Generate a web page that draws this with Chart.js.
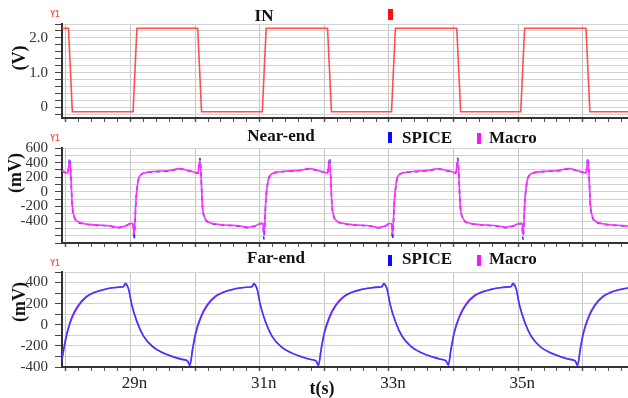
<!DOCTYPE html>
<html>
<head>
<meta charset="utf-8">
<script src="https://cdn.jsdelivr.net/npm/chart.js@4.4.1/dist/chart.umd.min.js"></script>
<style>
  body { margin: 0; background: #fff; }
  #wrap { position: relative; width: 628px; height: 398px; overflow: hidden; font-family: "Liberation Serif", "DejaVu Serif", serif; }
  .panel { position: absolute; left: 0; width: 628px; }
  .t { position: absolute; white-space: nowrap; line-height: 1; transform: translate(-50%, -50%); color: #111; font-weight: bold; }
  .l { position: absolute; white-space: nowrap; line-height: 1; transform: translateY(-50%); color: #111; font-weight: bold; font-size: 17px; }
  .rot { transform: translate(-50%, -50%) rotate(-90deg); font-size: 18px; }
  .y1 { position: absolute; font: bold 8px "DejaVu Sans Mono", monospace; color: #ff5c5c; transform: translate(-50%, -50%); }
  .mk { position: absolute; width: 5px; height: 11px; }
</style>
</head>
<body>
<div id="wrap">
  <div class="panel" style="top:0;height:125px"><canvas id="cIn"></canvas></div>
  <div class="panel" style="top:125px;height:125px"><canvas id="cNear"></canvas></div>
  <div class="panel" style="top:250px;height:148px"><canvas id="cFar"></canvas></div>

  <!-- panel texts -->
  <div class="y1" style="left:55px;top:14px">Y1</div>
  <div class="t" style="left:264px;top:15px;font-size:17px">IN</div>
  <div class="mk" style="left:388px;top:9px;background:#ff1010"></div>
  <div class="t rot" style="left:19px;top:58px">(V)</div>

  <div class="y1" style="left:55px;top:138px">Y1</div>
  <div class="t" style="left:281px;top:135px;font-size:17px">Near-end</div>
  <div class="mk" style="left:388px;top:132px;width:4px;background:#0a0aff"></div>
  <div class="l" style="left:402px;top:137px">SPICE</div>
  <div class="mk" style="left:477px;top:133px;width:4px;background:#ff10ff"></div>
  <div class="l" style="left:489px;top:137px">Macro</div>
  <div class="t rot" style="left:15px;top:173px">(mV)</div>

  <div class="y1" style="left:55px;top:263px">Y1</div>
  <div class="t" style="left:276px;top:257px;font-size:17px">Far-end</div>
  <div class="mk" style="left:388px;top:255px;width:4px;background:#0a0aff"></div>
  <div class="l" style="left:402px;top:258px">SPICE</div>
  <div class="mk" style="left:477px;top:255px;width:4px;background:#ff10ff"></div>
  <div class="l" style="left:489px;top:258px">Macro</div>
  <div class="t rot" style="left:19px;top:302px">(mV)</div>

  <div class="t" style="left:322px;top:388px;font-size:18px">t(s)</div>
</div>

<script>
// time axis (ns)
const X_MIN = 27.94;
const X_MAX = 36.7;
const X_LABELS = [29, 31, 33, 35];

// y grids and labelled ticks
const IN_GRID = [-0.2, 0, 0.2, 0.4, 0.6, 0.8, 1.0, 1.2, 1.4, 1.6, 1.8, 2.0, 2.2, 2.4];
const IN_LABELS = [0, 1, 2];
const NEAR_GRID = [-700, -600, -500, -400, -300, -200, -100, 0, 100, 200, 300, 400, 500, 600];
const NEAR_LABELS = [-400, -200, 0, 200, 400, 600];
const FAR_GRID = [-400, -300, -200, -100, 0, 100, 200, 300, 400, 500];
const FAR_LABELS = [-400, -200, 0, 200, 400];

// IN (V)
const IN_T = [27.94, 28.04, 28.10, 29.04, 29.10, 30.04, 30.10, 31.04, 31.10, 32.05, 32.11,
              33.04, 33.10, 34.05, 34.11, 35.04, 35.10, 36.05, 36.11, 36.70];
const IN_V = [2.28, 2.28, -0.12, -0.12, 2.28, 2.28, -0.12, -0.12, 2.28, 2.28, -0.12,
              -0.12, 2.28, 2.28, -0.12, -0.12, 2.28, 2.28, -0.12, -0.12];

// Near-end (mV)
const NEAR_T = [
  27.94, 28.03, 28.06, 28.10, 28.13, 28.17, 28.27, 28.45, 28.68, 28.81, 28.92, 29.01, 29.04,
  29.055, 29.085, 29.12, 29.16, 29.22, 29.38, 29.61, 29.76, 29.89, 30.01, 30.045,
  30.075, 30.115, 30.145, 30.185, 30.285, 30.465, 30.695, 30.825, 30.935, 31.02, 31.05,
  31.065, 31.095, 31.13, 31.17, 31.23, 31.39, 31.62, 31.77, 31.90, 32.02, 32.05,
  32.08, 32.12, 32.15, 32.19, 32.29, 32.47, 32.70, 32.83, 32.94, 33.01, 33.04,
  33.055, 33.085, 33.12, 33.16, 33.22, 33.38, 33.61, 33.76, 33.89, 34.01, 34.035,
  34.065, 34.105, 34.135, 34.175, 34.275, 34.455, 34.685, 34.815, 34.925, 35.03, 35.06,
  35.075, 35.105, 35.14, 35.18, 35.24, 35.40, 35.63, 35.78, 35.91, 36.02, 36.05,
  36.08, 36.12, 36.15, 36.19, 36.29, 36.47, 36.70
];
const NEAR_SPICE = [
  285, 254, 460, -211, -349, -404, -436, -455, -469, -491, -469, -436, -440,
  -650, -124, 152, 230, 258, 276, 290, 313, 290, 262, 254,
  460, -215, -352, -406, -438, -456, -470, -490, -466, -434, -438,
  -652, -120, 150, 228, 260, 278, 292, 315, 288, 262, 252,
  462, -210, -350, -402, -435, -455, -468, -492, -470, -437, -441,
  -648, -126, 154, 232, 258, 275, 291, 312, 290, 263, 255,
  458, -212, -348, -405, -437, -454, -470, -489, -467, -435, -439,
  -651, -122, 151, 229, 259, 277, 290, 314, 289, 261, 253,
  460, -213, -350, -404, -436, -456, -470
];
const NEAR_MACRO = [
  288, 257, 435, -200, -340, -398, -432, -452, -466, -486, -466, -432, -436,
  -585, -110, 160, 235, 262, 279, 293, 318, 292, 265, 257,
  438, -205, -343, -400, -434, -453, -467, -485, -463, -431, -435,
  -588, -106, 158, 233, 263, 281, 295, 320, 291, 265, 255,
  440, -200, -341, -397, -431, -452, -465, -487, -467, -434, -438,
  -582, -112, 162, 237, 261, 278, 294, 317, 293, 266, 258,
  434, -202, -339, -399, -433, -451, -467, -484, -464, -432, -436,
  -586, -108, 159, 234, 262, 280, 293, 319, 292, 264, 256,
  437, -203, -341, -398, -432, -453, -467
];

// Far-end (mV)
const FAR_T = [
  27.94, 27.97, 28.02, 28.09, 28.19, 28.32, 28.44, 28.57, 28.72, 28.85, 28.89, 28.92,
  28.97, 29.02, 29.10, 29.20, 29.34, 29.50, 29.67, 29.80, 29.88, 29.92,
  29.96, 30.01, 30.09, 30.19, 30.32, 30.44, 30.57, 30.72, 30.85, 30.88, 30.91,
  30.96, 31.01, 31.09, 31.19, 31.33, 31.49, 31.66, 31.79, 31.87, 31.91,
  31.95, 32.00, 32.08, 32.18, 32.31, 32.43, 32.56, 32.71, 32.84, 32.89, 32.92,
  32.97, 33.02, 33.10, 33.20, 33.34, 33.50, 33.67, 33.80, 33.88, 33.92,
  33.96, 34.01, 34.09, 34.19, 34.32, 34.44, 34.57, 34.72, 34.85, 34.89, 34.92,
  34.97, 35.02, 35.10, 35.20, 35.34, 35.50, 35.67, 35.80, 35.88, 35.92,
  35.96, 36.01, 36.09, 36.19, 36.32, 36.44, 36.57, 36.70
];
const FAR_SPICE = [
  -333, -223, -80, 60, 175, 265, 305, 330, 350, 358, 362, 392,
  340, 190, 30, -105, -205, -265, -305, -328, -342, -385,
  -239, -80, 70, 185, 270, 308, 332, 350, 358, 362, 390,
  338, 188, 28, -107, -207, -266, -306, -329, -343, -387,
  -240, -82, 68, 184, 268, 307, 331, 349, 357, 361, 391,
  341, 191, 31, -104, -204, -264, -304, -327, -341, -384,
  -238, -79, 71, 186, 271, 309, 333, 351, 359, 363, 392,
  339, 189, 29, -106, -206, -265, -305, -328, -342, -386,
  -239, -81, 69, 185, 270, 308, 332, 348
];
const FAR_MACRO = [
  -325, -210, -66, 74, 186, 272, 310, 333, 351, 357, 360, 378,
  336, 186, 26, -108, -207, -266, -305, -327, -340, -372,
  -228, -66, 84, 196, 277, 312, 335, 351, 357, 360, 377,
  334, 184, 24, -110, -209, -267, -306, -328, -341, -374,
  -229, -68, 82, 195, 275, 311, 334, 350, 356, 359, 378,
  337, 187, 27, -107, -206, -265, -304, -326, -339, -371,
  -227, -65, 85, 197, 278, 313, 336, 352, 358, 361, 379,
  335, 185, 25, -109, -208, -266, -305, -327, -340, -373,
  -228, -67, 83, 196, 277, 312, 335, 349
];

const FONT = '"Liberation Serif", "DejaVu Serif", serif';

// minor x ticks every 0.2 ns, grid lines only on whole ns
const xTicks = [];
for (let k = 140; k <= 183; k++) xTicks.push(k / 5);

const isWhole = v => Math.abs(v - Math.round(v)) < 1e-6;
const inList = (list, v) => list.some(l => Math.abs(l - v) < 1e-6);
const pts = (T, V) => T.map((t, i) => ({ x: t, y: V[i] }));

function xScale(showLabels, height) {
    return {
        type: 'linear',
        min: X_MIN,
        max: X_MAX,
        afterBuildTicks: s => { s.ticks = xTicks.map(v => ({ value: v })); },
        afterFit: s => { s.height = height; },
        grid: {
            color: c => (c.tick && isWhole(c.tick.value)) ? '#c6c6c6' : 'rgba(0,0,0,0)',
            tickColor: '#555',
            tickWidth: c => (c.tick && isWhole(c.tick.value)) ? 1.5 : 1,
            tickLength: 4
        },
        border: { color: '#333', width: 2 },
        ticks: {
            display: showLabels,
            autoSkip: false,
            maxRotation: 0,
            padding: 2,
            labelOffset: 4,
            color: '#222',
            font: { family: FONT, size: 17 },
            callback: v => (isWhole(v) && X_LABELS.includes(Math.round(v))) ? Math.round(v) + 'n' : ''
        }
    };
}

function yScale(min, max, grid, labels, fmt) {
    return {
        min: min,
        max: max,
        afterBuildTicks: s => { s.ticks = grid.map(v => ({ value: v })); },
        afterFit: s => {
            s.width = 62;
            // labels may spill past the plot edges, no extra room needed
            s.paddingTop = 0;
            s.paddingBottom = 0;
        },
        grid: { color: '#d2d2d2', tickColor: '#444', tickLength: 7 },
        border: { color: '#333', width: 2 },
        ticks: {
            autoSkip: false,
            padding: 7,
            color: '#333',
            font: { family: FONT, size: 15 },
            callback: v => inList(labels, v) ? fmt(v) : ''
        }
    };
}

function makeChart(id, datasets, x, y, top) {
    return new Chart(document.getElementById(id), {
        type: 'line',
        data: { datasets: datasets },
        options: {
            responsive: true,
            maintainAspectRatio: false,
            animation: false,
            layout: { padding: { top: top, left: 0, right: 0, bottom: 0 } },
            elements: { point: { radius: 0 } },
            plugins: { legend: { display: false }, tooltip: { enabled: false } },
            scales: { x: x, y: y }
        }
    });
}

makeChart('cIn', [{
    data: pts(IN_T, IN_V), borderColor: '#ff5050', borderWidth: 1.6, tension: 0
}], xScale(false, 7), yScale(-0.3, 2.4, IN_GRID, IN_LABELS, v => Math.abs(v) < 1e-6 ? '0' : v.toFixed(1)), 24);

makeChart('cNear', [
    { label: 'Macro', data: pts(NEAR_T, NEAR_MACRO), borderColor: '#ff30ff', borderWidth: 1.6, cubicInterpolationMode: 'monotone' },
    { label: 'SPICE', data: pts(NEAR_T, NEAR_SPICE), borderColor: '#2a2aff', borderWidth: 1.6, borderDash: [4, 4], cubicInterpolationMode: 'monotone' }
], xScale(false, 7), yScale(-700, 600, NEAR_GRID, NEAR_LABELS, v => String(Math.round(v))), 23);

makeChart('cFar', [
    { label: 'SPICE', data: pts(FAR_T, FAR_SPICE), borderColor: '#3a3aff', borderWidth: 1.6, cubicInterpolationMode: 'monotone' },
    { label: 'Macro', data: pts(FAR_T, FAR_MACRO), borderColor: '#ff30ff', borderWidth: 1.4, cubicInterpolationMode: 'monotone' }
], xScale(true, 31), yScale(-400, 500, FAR_GRID, FAR_LABELS, v => String(Math.round(v))), 22);
</script>
</body>
</html>
